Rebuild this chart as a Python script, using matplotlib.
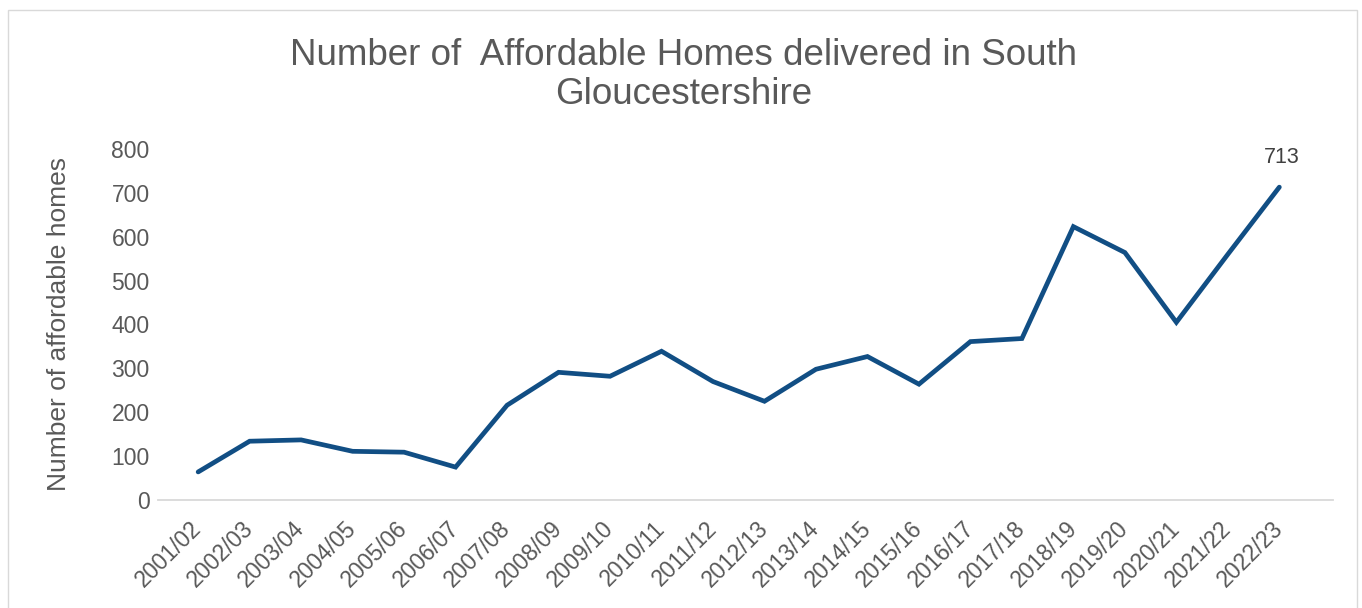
import matplotlib
matplotlib.use("Agg")
import matplotlib.pyplot as plt
from matplotlib.patches import Rectangle

plt.rcParams['font.family'] = ['Liberation Sans', 'DejaVu Sans']

years = ["2001/02", "2002/03", "2003/04", "2004/05", "2005/06", "2006/07",
         "2007/08", "2008/09", "2009/10", "2010/11", "2011/12", "2012/13",
         "2013/14", "2014/15", "2015/16", "2016/17", "2017/18", "2018/19",
         "2019/20", "2020/21", "2021/22", "2022/23"]
homes = [64, 134, 137, 111, 109, 75, 216, 291, 282, 339, 270, 225,
         298, 327, 264, 361, 368, 623, 564, 405, 560, 713]
yticks = [0, 100, 200, 300, 400, 500, 600, 700, 800]

grey = '#595959'
blue = '#114E84'

fig = plt.figure(figsize=(13.62, 6.08), dpi=100)
fig.patches.append(Rectangle((0.006, -0.01), 0.99, 0.994, transform=fig.transFigure,
                             fill=False, edgecolor='#D9D9D9', linewidth=1))
ax = fig.add_axes([0.116, 0.1776, 0.863, 0.5774])

x = list(range(len(years)))
ax.plot(x, homes, color=blue, linewidth=3.4, solid_capstyle='round', solid_joinstyle='miter')
ax.annotate(str(homes[-1]), (x[-1], homes[-1]), xytext=(2, 14), textcoords='offset points',
            ha='center', va='bottom', fontsize=15.5, color='#404040')

ax.set_xlim(-0.78, len(years) - 1 + 1.05)
ax.set_ylim(0, 800)
ax.set_yticks(yticks)
ax.set_xticks(x)
ax.set_xticklabels(years, rotation=45, ha='right', va='center', rotation_mode='anchor',
                   fontsize=16.5, color=grey)
ax.tick_params(axis='both', length=0)
ax.tick_params(axis='y', labelsize=16.5, labelcolor=grey, pad=6)
ax.tick_params(axis='x', pad=18)

for s in ['top', 'right', 'left']:
    ax.spines[s].set_visible(False)
ax.spines['bottom'].set_color('#D9D9D9')
ax.spines['bottom'].set_linewidth(1.3)

ax.set_ylabel("Number of affordable homes", fontsize=19, color=grey, labelpad=29)

fig.text(0.502, 0.877, "Number of  Affordable Homes delivered in South\nGloucestershire",
         ha='center', va='center', fontsize=26.5, color=grey, linespacing=1.15)

fig.savefig("out.png", dpi=100)
